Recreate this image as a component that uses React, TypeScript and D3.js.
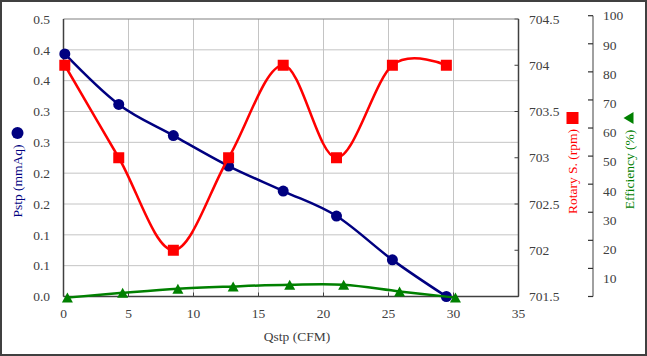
import React from "react";
import * as d3 from "d3";

const qPstp = [0.1, 4.25, 8.45, 12.7, 16.9, 21.0, 25.3, 29.45];
const pstp = [0.437, 0.346, 0.29, 0.235, 0.19, 0.145, 0.066, 0.0];
const rotary = [704, 703, 702, 703, 704, 703, 704, 704];
const qEff = [0.3, 4.55, 8.8, 13.05, 17.4, 21.55, 25.85, 30.15];
const eff = [-0.4, 1.3, 2.8, 3.6, 4.2, 4.2, 1.8, -0.4];

const xTicks = [0, 5, 10, 15, 20, 25, 30, 35];
const leftTicks = d3.range(10).map((i) => (i * 0.5) / 9);
const rightTicks = [701.5, 702, 702.5, 703, 703.5, 704, 704.5];
const effTicks = [0, 10, 20, 30, 40, 50, 60, 70, 80, 90, 100];
const effLabels = [10, 20, 30, 40, 50, 60, 70, 80, 90, 100];

const W = 647;
const H = 356;
const FONT = "'Liberation Serif', 'Times New Roman', serif";
const FS = 13.5;
const NAVY = "#000080";
const RED = "#ff0000";
const GREEN = "#008000";
const TICKC = "#404040";

export default function App() {
  const x = d3.scaleLinear().domain([0, 35]).range([63.5, 518.5]);
  const yL = d3.scaleLinear().domain([0, 0.5]).range([296.5, 19]);
  const yR = d3.scaleLinear().domain([701.5, 704.5]).range([296.5, 19]);
  const yE = d3.scaleLinear().domain([0, 100]).range([296.5, 15.7]);
  const yEl = d3.scaleLinear().domain([0, 100]).range([307.5, 15.7]);

  const curve = d3.curveCardinal.tension(0);
  const lineP = d3
    .line<number>()
    .x((_, i) => x(qPstp[i]))
    .y((d) => yL(d))
    .curve(curve);
  const lineR = d3
    .line<number>()
    .x((_, i) => x(qPstp[i]))
    .y((d) => yR(d))
    .curve(curve);
  const lineE = d3
    .line<number>()
    .x((_, i) => x(qEff[i]))
    .y((d) => yE(d))
    .curve(curve);

  const tri = (cx: number, cy: number, w: number, h: number) =>
    `M${cx},${cy - h / 2}L${cx + w / 2},${cy + h / 2}L${cx - w / 2},${cy + h / 2}Z`;
  const triLeft = (cx: number, cy: number, w: number, h: number) =>
    `M${cx - w / 2},${cy}L${cx + w / 2},${cy - h / 2}L${cx + w / 2},${cy + h / 2}Z`;

  const [x0, x1] = x.range();
  const [yb, yt] = yL.range();

  return (
    <svg
      width={W}
      height={H}
      style={{ position: "absolute", left: 0, top: 0, display: "block", background: "#fff" }}
      fontFamily={FONT}
      fontSize={FS}
    >
      <rect x={1} y={1} width={W - 2} height={H - 2} fill="#fff" stroke="#404040" strokeWidth={2} />

      {/* gridlines */}
      {leftTicks.slice(1, -1).map((t, i) => (
        <line key={"gh" + i} x1={x0} x2={x1} y1={yL(t)} y2={yL(t)} stroke="#c4c4c4" strokeWidth={1} />
      ))}
      {xTicks.slice(1, -1).map((t, i) => (
        <line key={"gv" + i} x1={x(t)} x2={x(t)} y1={yt} y2={yb} stroke="#c4c4c4" strokeWidth={1} />
      ))}

      {/* inside ticks */}
      {xTicks.map((t, i) => (
        <line key={"xt" + i} x1={x(t)} x2={x(t)} y1={yb} y2={yb - 4} stroke="#404040" />
      ))}
      {rightTicks.map((t, i) => (
        <line key={"rt" + i} x1={x1} x2={x1 - 4} y1={yR(t)} y2={yR(t)} stroke="#404040" />
      ))}

      {/* plot border */}
      <line x1={x0} x2={x1} y1={yt} y2={yt} stroke="#808080" strokeWidth={1.2} />
      <line x1={x0} x2={x0} y1={yt} y2={yb} stroke="#404040" strokeWidth={1.5} />
      <line x1={x1} x2={x1} y1={yt} y2={yb} stroke="#404040" strokeWidth={1.5} />
      <line x1={x0} x2={x1} y1={yb} y2={yb} stroke="#404040" strokeWidth={1.5} />

      {/* efficiency axis */}
      <line x1={593} x2={593} y1={yE(0)} y2={yE(100)} stroke="#808080" strokeWidth={1.5} />
      {effTicks.map((t, i) => (
        <line key={"et" + i} x1={588} x2={593} y1={yE(t)} y2={yE(t)} stroke="#303030" strokeWidth={1.2} />
      ))}

      {/* tick labels */}
      <g fill={TICKC}>
        {leftTicks.map((t, i) => (
          <text key={"ll" + i} x={50} y={yL(t)} dy="0.35em" textAnchor="end">
            {t.toFixed(1)}
          </text>
        ))}
        {rightTicks.map((t, i) => (
          <text key={"rl" + i} x={529} y={yR(t)} dy="0.35em" textAnchor="start">
            {String(t)}
          </text>
        ))}
        {effLabels.map((t, i) => (
          <text key={"el" + i} x={603} y={yEl(t)} dy="0.35em" textAnchor="start">
            {String(t)}
          </text>
        ))}
        {xTicks.map((t, i) => (
          <text key={"xl" + i} x={x(t)} y={318} textAnchor="middle">
            {String(t)}
          </text>
        ))}
        <text x={297} y={341} textAnchor="middle">
          Qstp (CFM)
        </text>
      </g>

      {/* axis titles */}
      <text
        transform={`translate(22,181) rotate(-90)`}
        textAnchor="middle"
        fill={NAVY}
      >
        Pstp (mmAq)
      </text>
      <circle cx={17.5} cy={133} r={6} fill={NAVY} />

      <text transform={`translate(577,171.5) rotate(-90)`} textAnchor="middle" fill={RED}>
        Rotary S. (rpm)
      </text>
      <rect x={566.5} y={112} width={12} height={12} fill={RED} />

      <text transform={`translate(633.5,169.5) rotate(-90)`} textAnchor="middle" fill={GREEN}>
        Efficiency (%)
      </text>
      <path d={triLeft(628.5, 118, 10, 12)} fill={GREEN} />

      {/* series */}
      <path d={lineP(pstp) || ""} fill="none" stroke={NAVY} strokeWidth={2.5} />
      {pstp.map((v, i) => (
        <circle key={"pc" + i} cx={x(qPstp[i])} cy={yL(v)} r={5.5} fill={NAVY} />
      ))}

      <path d={lineR(rotary) || ""} fill="none" stroke={RED} strokeWidth={2.5} />
      {rotary.map((v, i) => (
        <rect key={"rs" + i} x={x(qPstp[i]) - 5.5} y={yR(v) - 5.5} width={11} height={11} fill={RED} />
      ))}

      <path d={lineE(eff) || ""} fill="none" stroke={GREEN} strokeWidth={2.5} />
      {eff.map((v, i) => (
        <path key={"et2" + i} d={tri(x(qEff[i]), yE(v), 11, 10)} fill={GREEN} />
      ))}
    </svg>
  );
}
